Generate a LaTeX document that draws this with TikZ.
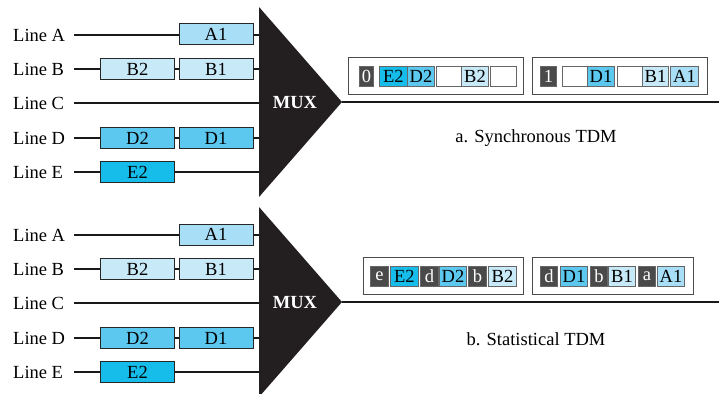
\documentclass[tikz,border=0pt]{standalone}
\usepackage{fontspec}
\setmainfont{Liberation Serif}
\definecolor{pa}{HTML}{A8DEF6}
\definecolor{pb}{HTML}{C8E9F8}
\definecolor{pd}{HTML}{5DC8EF}
\definecolor{pe}{HTML}{16BDEB}
\definecolor{dk}{HTML}{4A4A4A}
\definecolor{muxc}{HTML}{231F20}
\begin{document}
\begin{tikzpicture}[x=1pt,y=-1pt,font=\fontsize{18.5}{20}\selectfont,
  lbl/.style={anchor=west,inner sep=0pt},
  wire/.style={line width=1.3pt,draw=black!90},
  pkt/.style={draw=black!85,line width=1pt,minimum width=74pt,minimum height=21pt,inner sep=0pt},
  cell/.style={draw=black!60,line width=0.9pt,minimum height=20pt,inner sep=0pt,anchor=west},
  dcell/.style={cell,fill=dk,text=white},
  frm/.style={draw=black!70,line width=1pt},
  muxtext/.style={text=white,font=\fontsize{18.5}{20}\selectfont\bfseries}]
\useasboundingbox (0,0) rectangle (719,393);
% ---------- two multiplexer halves ----------
\foreach \half/\dy in {t/0,b/200}{
  \begin{scope}[yshift=-\dy pt]
    \node[lbl] (\half lA) at (13,35) {Line A};
    \node[lbl] (\half lB) at (13,69) {Line B};
    \node[lbl] (\half lC) at (13,103) {Line C};
    \node[lbl] (\half lD) at (13,138) {Line D};
    \node[lbl] (\half lE) at (13,172) {Line E};
    \foreach \r/\yy in {A/35,B/69,C/103,D/138,E/172}{
      \coordinate (\half s\r) at (74,\yy);
      \coordinate (\half m\r) at (260,\yy);
      \draw[wire] (\half s\r) -- (\half m\r);
    }
    \coordinate (\half mt) at (259,7);
    \coordinate (\half mb) at (259,197);
    \coordinate (\half mp) at (342,102);
    \fill[muxc] (\half mt) -- (\half mp) -- (\half mb) -- cycle;
    \node[muxtext] (\half mux) at (295,103) {MUX};
    \coordinate (\half out) at (719,102);
    \draw[wire] (\half mp) -- (\half out);
    \node[pkt,fill=pa] (\half A1) at (216,34.5) {A1};
    \node[pkt,fill=pb] (\half B2) at (137.5,69) {B2};
    \node[pkt,fill=pb] (\half B1) at (216,69) {B1};
    \node[pkt,fill=pd] (\half D2) at (137.5,138) {D2};
    \node[pkt,fill=pd] (\half D1) at (216,138) {D1};
    \node[pkt,fill=pe] (\half E2) at (137.5,172) {E2};
  \end{scope}
}
% ---------- synchronous TDM frames ----------
\draw[frm] (348,58) rectangle (523,95);
\draw[frm] (532,58) rectangle (707,95);
\node[dcell,minimum width=14pt] (s0) at (359,76.5) {0};
\node[cell,fill=pe,minimum width=28pt] (sE2) at (379,76.5) {E2};
\node[cell,fill=pd,minimum width=27pt] (sD2) at (407,76.5) {D2};
\node[cell,fill=white,minimum width=25pt] (sx1) at (436,76.5) {};
\node[cell,fill=pb,minimum width=27pt] (sB2) at (461,76.5) {B2};
\node[cell,fill=white,minimum width=26pt] (sx2) at (490,76.5) {};
\node[dcell,minimum width=16pt] (s1) at (540,76.5) {1};
\node[cell,fill=white,minimum width=25pt] (sx3) at (562,76.5) {};
\node[cell,fill=pd,minimum width=27pt] (sD1) at (587,76.5) {D1};
\node[cell,fill=white,minimum width=25pt] (sx4) at (617,76.5) {};
\node[cell,fill=pb,minimum width=26pt] (sB1) at (642,76.5) {B1};
\node[cell,fill=pa,minimum width=28pt] (sA1) at (670,76.5) {A1};
\node (capA) at (536,138) {a. Synchronous TDM};
% ---------- statistical TDM frames ----------
\draw[frm] (363,257) rectangle (523,294);
\draw[frm] (532,257) rectangle (693,294);
\node[dcell,minimum width=18pt] (ce) at (370,276) {e};
\node[cell,fill=pe,minimum width=28pt] (cE2) at (390,276) {E2};
\node[dcell,minimum width=18pt] (cd) at (420,276) {d};
\node[cell,fill=pd,minimum width=27pt] (cD2) at (439,276) {D2};
\node[dcell,minimum width=18pt] (cb) at (468,276) {b};
\node[cell,fill=pb,minimum width=28pt] (cB2) at (488,276) {B2};
\node[dcell,minimum width=17pt] (cd2) at (540,276) {d};
\node[cell,fill=pd,minimum width=27pt] (cD1) at (560,276) {D1};
\node[dcell,minimum width=17pt] (cb2) at (590,276) {b};
\node[cell,fill=pb,minimum width=27pt] (cB1) at (608,276) {B1};
\node[dcell,minimum width=17pt] (ca) at (638,276) {a};
\node[cell,fill=pa,minimum width=27pt] (cA1) at (657,276) {A1};
\node (capB) at (536,339) {b. Statistical TDM};
\end{tikzpicture}
\end{document}
